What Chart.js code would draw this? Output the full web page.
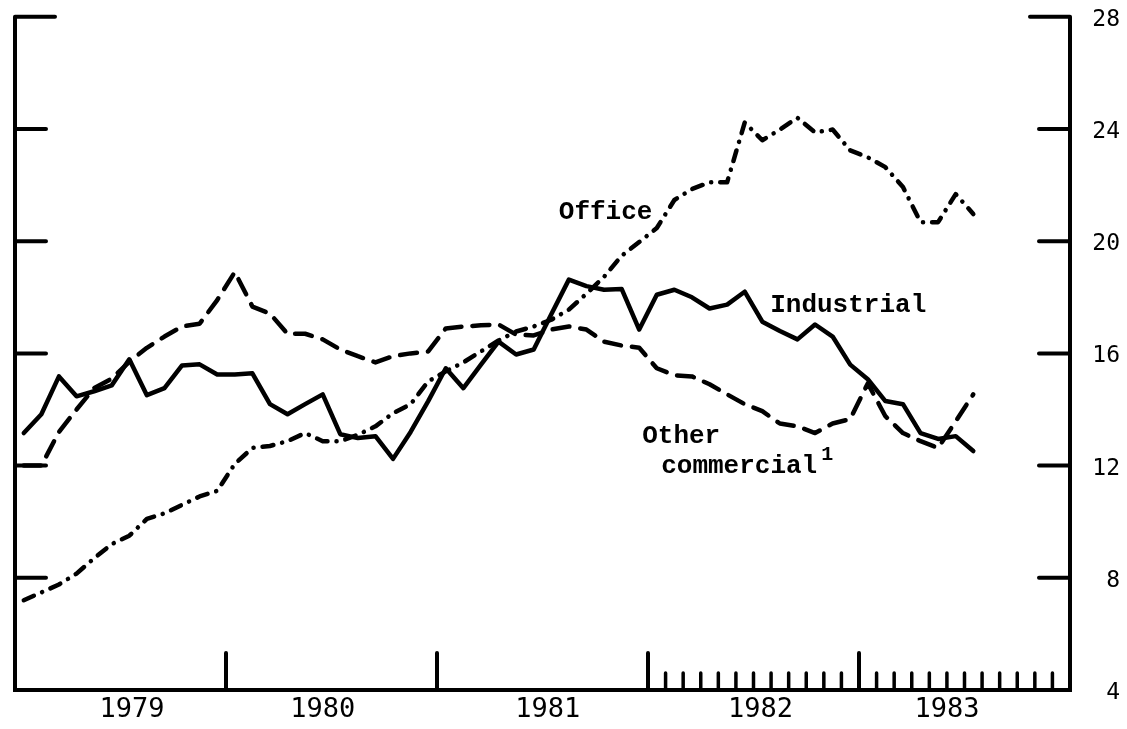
<!DOCTYPE html>
<html>
<head>
<meta charset="utf-8">
<script src="https://cdn.jsdelivr.net/npm/chart.js@4/dist/chart.umd.min.js"></script>
<style>
  html, body { margin: 0; padding: 0; background: #fff; }
  #c { display: block; }
</style>
</head>
<body>
<canvas id="c" width="1127" height="729"></canvas>
<script>
// monthly values, Jan 1979 - Jul 1983
const industrial = [
  13.16, 13.83, 15.18, 14.47, 14.65, 14.86, 15.79, 14.51, 14.76, 15.57, 15.61, 15.25,
  15.25, 15.29, 14.19, 13.83, 14.19, 14.54, 13.12, 12.98, 13.05, 12.24, 13.20, 14.30,
  15.47, 14.76, 15.60, 16.42, 15.96, 16.14, 17.40, 18.63, 18.40, 18.27, 18.30, 16.85,
  18.09, 18.27, 18.00, 17.60, 17.74, 18.20, 17.13, 16.80, 16.50, 17.03, 16.60, 15.60,
  15.08, 14.30, 14.19, 13.16, 12.95, 13.05, 12.52
];
const otherCommercial = [
  12.00, 12.00, 13.20, 14.00, 14.76, 15.10, 15.70, 16.20, 16.60, 16.96, 17.06, 17.90,
  18.90, 17.67, 17.42, 16.70, 16.70, 16.50, 16.14, 15.90, 15.68, 15.90, 16.00, 16.07,
  16.89, 16.96, 17.00, 17.03, 16.67, 16.64, 16.85, 16.96, 16.85, 16.42, 16.28, 16.20,
  15.47, 15.22, 15.18, 14.90, 14.54, 14.19, 13.94, 13.50, 13.40, 13.16, 13.50, 13.66,
  14.93, 13.76, 13.16, 12.87, 12.63, 13.58, 14.54
];
const office = [
   7.20,  7.48,  7.76,  8.15,  8.70,  9.20,  9.50, 10.10, 10.30, 10.60, 10.90, 11.10,
  12.06, 12.63, 12.70, 12.87, 13.16, 12.87, 12.87, 13.10, 13.40, 13.87, 14.19, 15.00,
  15.36, 15.68, 16.07, 16.46, 16.78, 16.96, 17.20, 17.56, 18.13, 18.73, 19.48, 19.97,
  20.47, 21.47, 21.86, 22.10, 22.10, 24.23, 23.60, 23.98, 24.40, 23.88, 23.98, 23.24,
  22.99, 22.64, 21.93, 20.68, 20.68, 21.68, 20.97
];

const years = ['1979', '1980', '1981', '1982', '1983'];
const yearLabelAt = [6.65, 17.5, 30.3, 42.4, 53.0];   // months from Jan 1979
const yearStarts = [12, 24, 36, 48];
const yTicks = [4, 8, 12, 16, 20, 24, 28];

const INK = '#000';
const NUM_FONT = '"DejaVu Sans Mono", "Liberation Mono", monospace';
const TYPE_FONT = '"Liberation Mono", "DejaVu Sans Mono", monospace';
const pts = arr => arr.map((v, i) => ({ x: i + 0.5, y: v }));

const frame = {
  id: 'frame',
  afterDatasetsDraw(chart) {
    const { ctx, chartArea: a, scales: { x, y } } = chart;
    ctx.save();
    ctx.strokeStyle = INK;
    ctx.fillStyle = INK;
    ctx.lineWidth = 4;
    ctx.lineJoin = 'miter';
    ctx.lineCap = 'butt';
    ctx.beginPath();
    ctx.moveTo(a.left, a.top);
    ctx.lineTo(a.left, a.bottom);
    ctx.lineTo(a.right, a.bottom);
    ctx.lineTo(a.right, a.top);
    ctx.stroke();

    ctx.lineCap = 'round';
    ctx.beginPath();
    yTicks.forEach(v => {
      if (v === 4) return;
      const py = y.getPixelForValue(v);
      const len = v === 28 ? 40 : 31;
      ctx.moveTo(a.left, py); ctx.lineTo(a.left + len, py);
      ctx.moveTo(a.right - len, py); ctx.lineTo(a.right, py);
    });
    // year marks
    yearStarts.forEach(m => {
      const px = x.getPixelForValue(m);
      ctx.moveTo(px, a.bottom); ctx.lineTo(px, a.bottom - 37);
    });
    ctx.stroke();

    // monthly marks from 1982 on
    ctx.lineWidth = 3.5;
    ctx.beginPath();
    for (let m = 37; m < 60; m++) {
      if (m === 48) continue;
      const px = x.getPixelForValue(m);
      ctx.moveTo(px, a.bottom); ctx.lineTo(px, a.bottom - 17);
    }
    ctx.stroke();

    // series labels
    ctx.font = 'bold 26px ' + TYPE_FONT;
    ctx.textBaseline = 'alphabetic';
    const put = (txt, mx, v, align) => {
      ctx.textAlign = align;
      ctx.fillText(txt, x.getPixelForValue(mx), y.getPixelForValue(v));
    };
    put('Office', 36.25, 20.8, 'right');
    put('Industrial', 42.95, 17.49, 'left');
    put('Other', 35.67, 12.82, 'left');
    put('commercial', 36.75, 11.72, 'left');
    ctx.font = 'bold 20px ' + TYPE_FONT;
    put('1', 45.85, 12.2, 'left');
    ctx.restore();
  }
};

new Chart(document.getElementById('c'), {
  type: 'line',
  data: {
    datasets: [
      { label: 'Industrial', data: pts(industrial), borderColor: INK, borderWidth: 4.5 },
      { label: 'Other commercial', data: pts(otherCommercial), borderColor: INK, borderWidth: 4.5,
        borderDash: [17, 11] },
      { label: 'Office', data: pts(office), borderColor: INK, borderWidth: 4.5,
        borderDash: [11, 9, 0.1, 9] }
    ]
  },
  options: {
    responsive: false,
    animation: false,
    layout: { padding: { left: 15, top: 14, right: 7, bottom: 0 } },
    plugins: { legend: { display: false }, tooltip: { enabled: false } },
    elements: {
      point: { radius: 0 },
      line: { tension: 0, borderCapStyle: 'round', borderJoinStyle: 'round', fill: false }
    },
    scales: {
      x: {
        type: 'linear', min: 0, max: 60,
        grid: { display: false, drawTicks: false },
        border: { display: false },
        afterBuildTicks: s => { s.ticks = yearLabelAt.map(v => ({ value: v })); },
        afterFit: s => { s.height = 39; },
        ticks: {
          autoSkip: false, maxRotation: 0, padding: 4, color: INK,
          font: { family: NUM_FONT, size: 27 },
          callback: (v, i) => years[i]
        }
      },
      y: {
        position: 'right', min: 4, max: 28,
        grid: { display: false, drawTicks: false },
        border: { display: false },
        afterBuildTicks: s => { s.ticks = yTicks.map(v => ({ value: v })); },
        afterFit: s => { s.width = 50; },
        ticks: {
          crossAlign: 'far', color: INK, labelOffset: 3,
          font: { family: NUM_FONT, size: 23 }
        }
      }
    }
  },
  plugins: [frame]
});
</script>
</body>
</html>
